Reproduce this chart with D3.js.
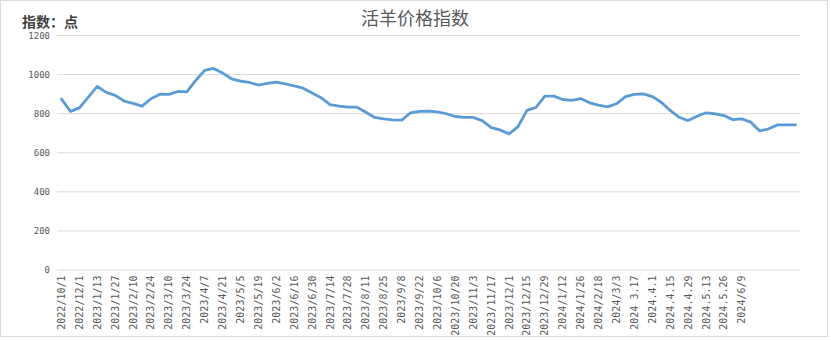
<!DOCTYPE html>
<html>
<head>
<meta charset="utf-8">
<script src="https://cdn.jsdelivr.net/npm/d3@7"></script>
<style>
  body { margin: 0; background: #fff; }
  svg { display: block; }
  .grid line { stroke: #d9d9d9; stroke-width: 1; }
  .grid .domain { display: none; }
  .axis text { fill: #595959; font-family: "DejaVu Sans Mono", monospace; }
</style>
</head>
<body>
<svg id="chart" width="831" height="340"></svg>
<script>
// weekly index, one value per category
var values = [872, 809, 827, 882, 937, 906, 891, 862, 850, 836,
              874, 897, 896, 911, 909, 968, 1019, 1029, 1005, 976,
              964, 957, 944, 952, 959, 950, 940, 928, 903, 879,
              844, 836, 831, 831, 805, 778, 771, 766, 764, 802,
              809, 810, 807, 797, 783, 778, 778, 762, 726, 714,
              694, 731, 814, 829, 887, 887, 870, 865, 875, 853,
              841, 832, 848, 885, 896, 899, 885, 856, 814, 779,
              762, 784, 802, 797, 788, 767, 771, 754, 709, 720,
              740, 740, 740];

// labels shown on every second category
var tickLabels = ["2022/10/1", "2022/12/1", "2023/1/13", "2023/1/27", "2023/2/10", "2023/2/24",
                  "2023/3/10", "2023/3/24", "2023/4/7", "2023/4/21", "2023/5/5", "2023/5/19",
                  "2023/6/2", "2023/6/16", "2023/6/30", "2023/7/14", "2023/7/28", "2023/8/11",
                  "2023/8/25", "2023/9/8", "2023/9/22", "2023/10/6", "2023/10/20", "2023/11/3",
                  "2023/11/17", "2023/12/1", "2023/12/15", "2023/12/29", "2024/1/12", "2024/1/26",
                  "2024/2/18", "2024/3/3", "2024 3.17", "2024.4.1", "2024.4.15", "2024.4.29",
                  "2024.5.13", "2024.5.26", "2024/6/9"];

var yTicks = [0, 200, 400, 600, 800, 1000, 1200];

var title = "活羊价格指数";
var yTitle = "指数：点";

var svg = d3.select("#chart");

// outer frame
svg.append("rect")
    .attr("x", 0.5).attr("y", 0.5)
    .attr("width", 827).attr("height", 336)
    .attr("fill", "#fff")
    .attr("stroke", "#d9d9d9");

var plot = {left: 57, right: 800, top: 35, bottom: 269.5};

var x = d3.scaleBand()
    .domain(d3.range(values.length))
    .range([plot.left, plot.right]);

var y = d3.scaleLinear()
    .domain([0, 1200])
    .range([plot.bottom, plot.top]);

var cx = function(i) { return x(i) + x.bandwidth() / 2; };

// gridlines + y labels
var yAxis = svg.append("g")
    .attr("class", "grid axis")
    .attr("transform", "translate(" + plot.left + ",0)")
    .call(d3.axisLeft(y)
      .tickValues(yTicks)
      .tickSize(-(plot.right - plot.left))
      .tickPadding(7)
      .tickFormat(d3.format("d")));

yAxis.selectAll("text")
    .attr("font-size", "9px")
    .attr("dy", "0.35em");

// x labels, every second category
var labelIdx = tickLabels.map(function(d, i) { return i * 2; });

var xAxis = svg.append("g")
    .attr("class", "axis")
    .attr("transform", "translate(0," + plot.bottom + ")")
    .call(d3.axisBottom(x)
      .tickValues(labelIdx)
      .tickSize(0)
      .tickFormat(function(d) { return tickLabels[d / 2]; }));

xAxis.select(".domain").remove();
xAxis.selectAll("text")
    .attr("font-size", "10px")
    .attr("transform", "rotate(-90)")
    .attr("text-anchor", "end")
    .attr("x", -6)
    .attr("y", 0)
    .attr("dy", "0.35em");

// the line
var line = d3.line()
    .x(function(d, i) { return cx(i); })
    .y(function(d) { return y(d); });

svg.append("path")
    .datum(values)
    .attr("fill", "none")
    .attr("stroke", "#5b9bd5")
    .attr("stroke-width", 2.8)
    .attr("stroke-linejoin", "round")
    .attr("stroke-linecap", "round")
    .attr("d", line);

// titles
svg.append("text")
    .attr("x", 415)
    .attr("y", 25)
    .attr("text-anchor", "middle")
    .attr("font-family", "'Noto Sans CJK SC', sans-serif")
    .attr("font-size", "18px")
    .attr("fill", "#595959")
    .text(title);

svg.append("text")
    .attr("x", 22)
    .attr("y", 27)
    .attr("font-family", "'Noto Sans CJK SC', sans-serif")
    .attr("font-size", "14px")
    .attr("font-weight", "bold")
    .attr("fill", "#404040")
    .text(yTitle);
</script>
</body>
</html>
